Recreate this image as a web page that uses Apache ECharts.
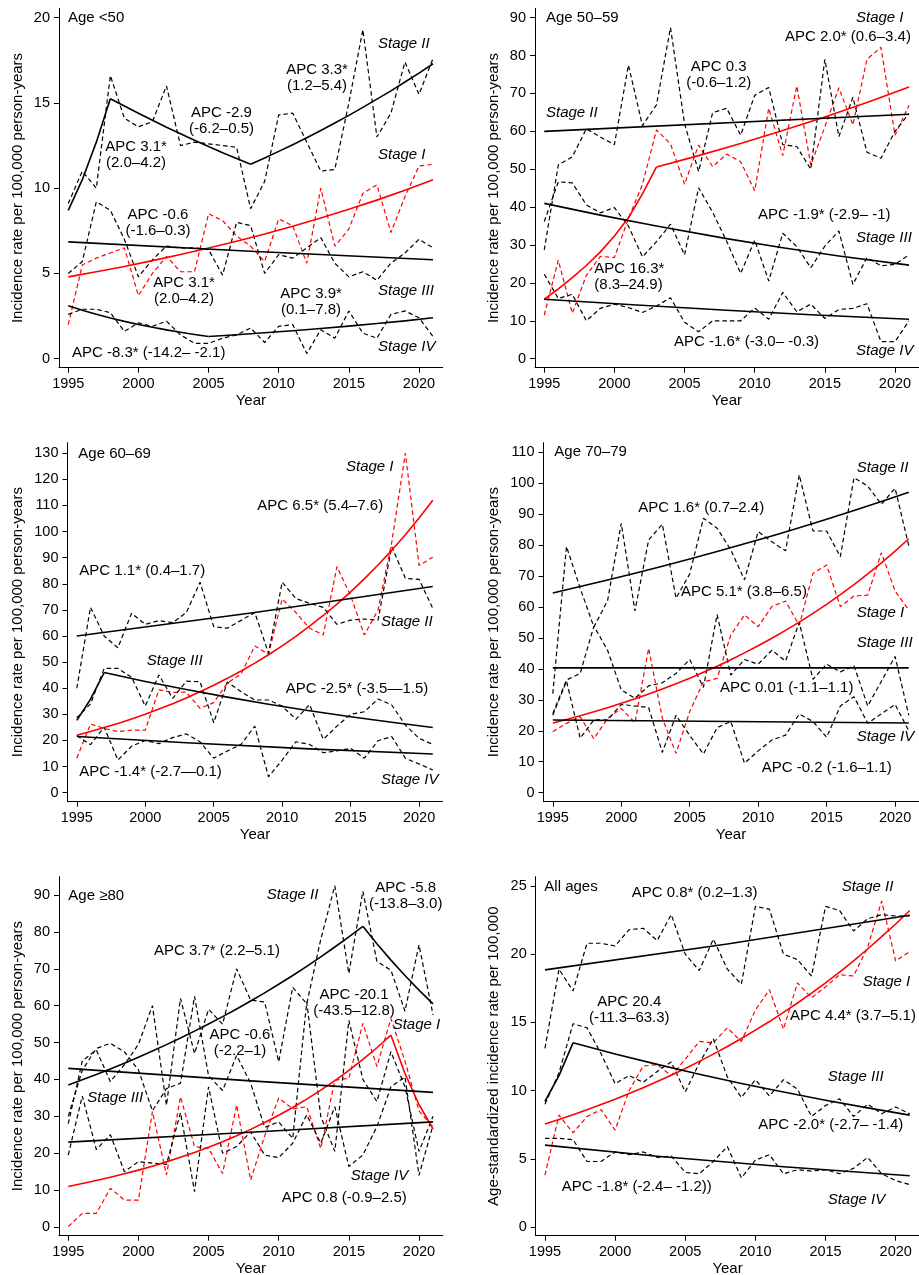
<!DOCTYPE html>
<html><head><meta charset="utf-8">
<script src="https://cdn.jsdelivr.net/npm/echarts@6/dist/echarts.min.js"></script>
<style>html,body{margin:0;padding:0;background:#fff}#c{width:919px;height:1275px}</style>
</head><body><div id="c"></div>
<script>
const YEARS = [1995,1996,1997,1998,1999,2000,2001,2002,2003,2004,2005,2006,2007,2008,2009,2010,2011,2012,2013,2014,2015,2016,2017,2018,2019,2020,2021];
const X_TICKS = [1995,2000,2005,2010,2015,2020];
const Y_TICKS_P1 = [0,5,10,15,20];
const Y_TICKS_P2 = [0,10,20,30,40,50,60,70,80,90];
const Y_TICKS_P3 = [0,10,20,30,40,50,60,70,80,90,100,110,120,130];
const Y_TICKS_P4 = [0,10,20,30,40,50,60,70,80,90,100,110];
const Y_TICKS_P5 = [0,10,20,30,40,50,60,70,80,90];
const Y_TICKS_P6 = [0,5,10,15,20,25];

// Panel 1: Age <50
const p1StageI   = [2.0,5.5,5.9,6.2,6.5,3.7,5.0,6.0,5.1,5.1,8.5,8.1,7.2,6.6,5.7,8.2,7.8,5.6,10.0,6.6,7.6,9.7,10.2,7.4,9.5,11.3,11.4];
const p1StageII  = [9.1,11.0,10.0,16.6,14.1,13.6,13.9,16.0,12.5,12.7,12.6,12.5,12.4,8.8,10.4,14.3,14.4,12.7,11.0,11.1,15.0,19.3,13.0,14.4,17.4,15.5,17.6];
const p1StageIII = [5.0,5.7,9.2,8.7,7.0,4.8,5.8,6.6,6.5,6.5,6.4,4.9,8.0,7.8,5.0,6.1,5.9,6.5,7.1,5.6,4.8,5.1,4.6,5.6,6.2,7.0,6.5];
const p1StageIV  = [2.6,2.9,2.9,2.7,1.6,2.1,1.9,2.2,1.4,0.9,0.9,1.2,1.4,1.8,0.95,1.9,2.0,0.3,1.7,1.2,2.8,1.5,1.2,2.6,2.8,2.4,1.3];
const p1FitI   = [[[1995,4.8],[1997,5.1],[1999,5.41],[2001,5.75],[2003,6.11],[2005,6.49],[2007,6.89],[2009,7.31],[2011,7.77],[2013,8.25],[2015,8.76],[2017,9.3],[2019,9.88],[2021,10.5]]];
const p1FitII  = [[[1995,8.7],[1996,10.5],[1997,12.7],[1998,15.25]],
                  [[1998,15.25],[2000,14.39],[2002,13.57],[2004,12.81],[2006,12.08],[2008,11.4]],
                  [[2008,11.4],[2009,11.77],[2010,12.16],[2011,12.55],[2012,12.96],[2013,13.38],[2014,13.82],[2015,14.27],[2016,14.74],[2017,15.22],[2018,15.71],[2019,16.23],[2020,16.75],[2021,17.3]]];
const p1FitIII = [[[1995,6.85],[2008,6.3],[2021,5.8]]];
const p1FitIV  = [[[1995,3.1],[1996,2.84],[1997,2.61],[1998,2.39],[1999,2.19],[2000,2.01],[2001,1.84],[2002,1.69],[2003,1.55],[2004,1.42],[2005,1.3]],
                  [[2005,1.3],[2007,1.4],[2009,1.52],[2011,1.64],[2013,1.77],[2015,1.91],[2017,2.06],[2019,2.22],[2021,2.4]]];

// Panel 2: Age 50–59
const p2StageI   = [11.5,26,12,22,27,26.7,37,46,60.4,56.7,46,56.4,50.7,54,52,44.3,66.1,53.6,72,51.1,61.2,71.5,61.7,79,82.2,59,66.9];
const p2StageII  = [28.7,51.1,53.3,60.7,58.5,56.5,77.5,61.5,67,87.4,62,49.4,64.9,66.1,59,69.5,71.6,56.5,56,50,79,58.6,69,54.5,52.9,60,64.7];
const p2StageIII = [36.2,46.7,46.4,40.6,38.5,39.9,35,26.9,30.9,35.5,27.4,45.1,38.7,31,22.5,31.3,20.5,33.1,29.6,24,29.7,33.7,19.6,26.7,24.5,24.9,27.4];
const p2StageIV  = [22.3,15.9,17,10,13.3,14.4,13.5,12.2,13.9,16.1,9.6,7.1,10,10,10,13.4,10.4,17.5,12.4,14.4,10.6,13,13.3,14.5,4.5,4.5,10];
const p2FitI   = [[[1995,15.7],[1996,18.4],[1997,21.4],[1998,24.6],[1999,28.2],[2000,32.4],[2001,37.2],[2002,43.5],[2003,50.6]],
                  [[2003,50.6],[2006,53.6],[2009,56.8],[2012,60.2],[2015,63.8],[2018,67.6],[2021,71.7]]];
const p2FitII  = [[[1995,60],[2021,64.5]]];
const p2FitIII = [[[1995,41],[1999,37.9],[2003,35.0],[2008,31.7],[2012,29.3],[2016,27.1],[2021,24.7]]];
const p2FitIV  = [[[1995,15.7],[2001,14.3],[2008,12.8],[2014,11.6],[2021,10.4]]];

// Panel 3: Age 60–69
const p3StageI   = [13.2,26.3,24.6,23.4,24,24,39.4,38.4,38.5,32.3,34.5,42,45.5,56.2,53,74.2,69,63,60.4,86.6,75.5,60.4,70,95.8,130,87,90.2];
const p3StageII  = [40,71,60,55.5,68.7,64.5,65.9,65.1,69,80.6,63.6,63,66,69,53.4,80.6,74.4,72.5,71,64.5,66.1,66.5,66.1,94.2,82.1,81.7,70.6];
const p3StageIII = [28.7,34,47.6,47.6,44.2,33.2,45.1,36.1,42.7,42.5,26.8,42.4,38.7,35.5,35.5,33.2,28.1,33.8,20.4,25.5,30,31,35.9,33.6,25.9,20.8,18.5];
const p3StageIV  = [21.9,18.4,25.1,12.5,17.8,20,18.8,21.1,22.5,19.5,13.2,16,18.5,25.5,6.1,12.5,19.5,18.5,15.3,16,17,13.2,19.9,21.5,13.2,11,8.7];
const p3FitI   = [[[1995,22],[1996,23.42],[1997,24.93],[1998,26.54],[1999,28.26],[2000,30.08],[2001,32.03],[2002,34.09],[2003,36.3],[2004,38.64],[2005,41.14],[2006,43.8],[2007,46.62],[2008,49.63],[2009,52.84],[2010,56.25],[2011,59.89],[2012,63.76],[2013,67.87],[2014,72.26],[2015,76.93],[2016,81.9],[2017,87.19],[2018,92.82],[2019,98.81],[2020,105.2],[2021,112]]];
const p3FitII  = [[[1995,60],[2008,69],[2021,79]]];
const p3FitIII = [[[1995,27.7],[1996,35.8],[1997,46]],
                  [[1997,46],[2000,42.6],[2003,39.5],[2006,36.6],[2009,33.9],[2012,31.4],[2015,29.1],[2018,27.0],[2021,25]]];
const p3FitIV  = [[[1995,21.5],[2003,19.1],[2012,16.8],[2021,14.8]]];

// Panel 4: Age 70–79
const p4StageI   = [19.7,22.4,24.5,17.4,24,27.2,22.6,46.6,24,12.7,26.2,35.8,36.9,50.9,57.4,53.6,60.1,61.9,54,70.8,73.5,60.1,63.5,63.8,77.5,65.1,59];
const p4StageII  = [32,79.5,66,53.5,62,87,58.7,81.6,86.7,62.8,70.6,88.6,85.4,78.4,68.7,84.3,81,78.1,102.6,84.5,84.5,76.2,101.7,99,93.1,98.3,79.7];
const p4StageIII = [25.6,36.4,38.5,53.8,46,33.2,30.5,34.5,35.5,38.5,43,34,57.5,38,43,41.5,46,42.5,55,36.6,41.5,39,41,28,36,44,25];
const p4StageIV  = [25,36,17.6,23.5,23.5,28.5,28,27.5,13,25,18.5,12.5,21,23,9.5,13.5,17,18.6,25.4,23,17.9,28,31,22.4,25.5,28.5,20];
const p4FitI   = [[[1995,22.5],[1996,23.65],[1997,24.85],[1998,26.12],[1999,27.45],[2000,28.85],[2001,30.32],[2002,31.87],[2003,33.49],[2004,35.2],[2005,36.99],[2006,38.88],[2007,40.86],[2008,42.95],[2009,45.14],[2010,47.44],[2011,49.86],[2012,52.4],[2013,55.07],[2014,57.88],[2015,60.83],[2016,63.93],[2017,67.19],[2018,70.62],[2019,74.22],[2020,78],[2021,82]]];
const p4FitII  = [[[1995,64.5],[1997,66.56],[1999,68.68],[2001,70.87],[2003,73.13],[2005,75.46],[2007,77.87],[2009,80.35],[2011,82.91],[2013,85.56],[2015,88.29],[2017,91.1],[2019,94.01],[2021,97]]];
const p4FitIII = [[[1995,40.3],[2021,40.3]]];
const p4FitIV  = [[[1995,23.5],[2021,22.5]]];

// Panel 5: Age ≥80
const p5StageI   = [0.1,3.7,3.7,10.5,7.3,7.3,31.3,14.1,35.3,21.8,21.3,14.5,33.1,12.7,24.7,35,32,32.6,21.3,39.8,40.3,55.2,43.5,56.5,45,31.5,27];
const p5StageII  = [28,45,48,39.4,44,49.5,60,33,62,47,59,55,70,61.5,61,44.8,65,60.5,78,92.5,68.7,91,72,69.6,58.5,76.5,57.5];
const p5StageIII = [30,42.5,48.4,49.8,47.5,42.6,31.5,37.5,39,62.5,41,37,46.5,39,27,28.5,24,61,30,20.5,56,40,34,47.5,38,20.5,30];
const p5StageIV  = [19.5,35.5,21,25,15,17.7,17.3,17,31,9.6,38,20,21.8,25.8,19.5,18.8,22.7,30.4,22.7,32.6,16.4,19.5,27.2,38,40.7,14,27.6];
const p5FitI   = [[[1995,11],[1996,11.77],[1997,12.59],[1998,13.47],[1999,14.41],[2000,15.42],[2001,16.49],[2002,17.65],[2003,18.88],[2004,20.2],[2005,21.61],[2006,23.12],[2007,24.73],[2008,26.46],[2009,28.31],[2010,30.29],[2011,32.4],[2012,34.67],[2013,37.09],[2014,39.68],[2015,42.45],[2016,45.42],[2017,48.59],[2018,52]],
                  [[2018,52],[2019,41.6],[2020,33.2],[2021,26.6]]];
const p5FitII  = [[[1995,38.5],[1996,39.9],[1997,41.35],[1998,42.86],[1999,44.41],[2000,46.03],[2001,47.7],[2002,49.44],[2003,51.23],[2004,53.1],[2005,55.03],[2006,57.03],[2007,59.1],[2008,61.25],[2009,63.48],[2010,65.79],[2011,68.18],[2012,70.66],[2013,73.23],[2014,75.9],[2015,78.66],[2016,81.5]],
                  [[2016,81.5],[2017,76.79],[2018,72.35],[2019,68.16],[2020,64.22],[2021,60.5]]];
const p5FitIII = [[[1995,43],[2008,39.6],[2021,36.5]]];
const p5FitIV  = [[[1995,23],[2008,25.7],[2021,28.5]]];

// Panel 6: All ages
const p6StageI   = [3.8,8.2,6.9,8.1,8.6,7.1,10.0,11.8,11.9,11.1,12.3,13.6,13.5,14.6,13.6,15.9,17.4,14.5,17.9,16.8,17.6,18.5,18.4,20.5,23.9,19.5,20.2];
const p6StageII  = [13.1,18.9,17.3,20.8,20.8,20.6,21.8,21.9,21.0,22.9,20.0,18.8,21.1,18.9,17.8,23.5,23.3,20.0,19.6,18.4,23.5,23.2,21.7,22.6,22.9,22.8,22.8];
const p6StageIII = [9.0,11.3,14.9,14.6,12.7,10.5,11.1,10.6,11.4,12.1,9.9,12.0,13.8,11.0,9.5,10.8,9.6,10.8,10.1,8.1,8.9,9.4,8.1,9.0,8.3,8.8,8.3];
const p6StageIV  = [6.5,6.5,6.4,4.8,4.8,5.5,5.3,5.5,5.1,5.2,4.0,3.9,4.8,5.9,3.6,4.9,5.3,3.9,4.2,4.1,4.2,3.9,4.3,5.1,3.9,3.4,3.1];
const p6FitI   = [[[1995,7.55],[1996,7.88],[1997,8.23],[1998,8.59],[1999,8.97],[2000,9.37],[2001,9.78],[2002,10.21],[2003,10.66],[2004,11.13],[2005,11.62],[2006,12.14],[2007,12.67],[2008,13.23],[2009,13.82],[2010,14.43],[2011,15.06],[2012,15.73],[2013,16.42],[2014,17.14],[2015,17.9],[2016,18.69],[2017,19.51],[2018,20.38],[2019,21.28],[2020,22.21],[2021,23.2]]];
const p6FitII  = [[[1995,18.85],[2008,20.75],[2021,22.85]]];
const p6FitIII = [[[1995,9.2],[1996,11.1],[1997,13.5]],
                  [[1997,13.5],[2000,12.68],[2003,11.92],[2006,11.2],[2009,10.52],[2012,9.89],[2015,9.29],[2018,8.73],[2021,8.2]]];
const p6FitIV  = [[[1995,6],[2003,5.19],[2012,4.41],[2021,3.75]]];

const YNAME_A = 'Incidence rate per 100,000 person-years';
const YNAME_B = 'Age-standardized incidence rate per 100,000';

const FONT = '"Liberation Sans", Arial, Helvetica, sans-serif';
const RED = '#ff0000', BLACK = '#000000';

const panels = [
  {grid:{left:59,top:8.3,width:383.7,height:359.4}, x:[1994.34,2021.69], y:[-0.528,20.55], ticks:Y_TICKS_P1, yname:YNAME_A, ygap:34,
   obs:[p1StageI,p1StageII,p1StageIII,p1StageIV], fit:[p1FitI,p1FitII,p1FitIII,p1FitIV]},
  {grid:{left:535,top:8.3,width:383.7,height:359.4}, x:[1994.34,2021.69], y:[-2.375,92.48], ticks:Y_TICKS_P2, yname:YNAME_A, ygap:34,
   obs:[p2StageI,p2StageII,p2StageIII,p2StageIV], fit:[p2FitI,p2FitII,p2FitIII,p2FitIV]},
  {grid:{left:67.5,top:442.7,width:375,height:359}, x:[1994.32,2021.71], y:[-3.45,134.05], ticks:Y_TICKS_P3, yname:YNAME_A, ygap:42,
   obs:[p3StageI,p3StageII,p3StageIII,p3StageIV], fit:[p3FitI,p3FitII,p3FitIII,p3FitIV]},
  {grid:{left:543.5,top:442.7,width:375,height:359}, x:[1994.32,2021.71], y:[-2.9,113.0], ticks:Y_TICKS_P4, yname:YNAME_A, ygap:42,
   obs:[p4StageI,p4StageII,p4StageIII,p4StageIV], fit:[p4FitI,p4FitII,p4FitIII,p4FitIV]},
  {grid:{left:59,top:876.7,width:383.7,height:359}, x:[1994.34,2021.69], y:[-2.36,94.96], ticks:Y_TICKS_P5, yname:YNAME_A, ygap:34,
   obs:[p5StageI,p5StageII,p5StageIII,p5StageIV], fit:[p5FitI,p5FitII,p5FitIII,p5FitIV]},
  {grid:{left:535.7,top:876.7,width:383.7,height:359}, x:[1994.34,2021.69], y:[-0.64,25.68], ticks:Y_TICKS_P6, yname:YNAME_B, ygap:34,
   obs:[p6StageI,p6StageII,p6StageIII,p6StageIV], fit:[p6FitI,p6FitII,p6FitIII,p6FitIV]}
];

// [text, x, y, align, italic]
const notes = [
  ['Age <50',68,18,'left'],
  ['Stage II',378,44,'left',1],
  ['APC 3.3*\n(1.2–5.4)',317,78,'center'],
  ['APC -2.9\n(-6.2–0.5)',221.5,120.5,'center'],
  ['APC 3.1*\n(2.0–4.2)',136,154.5,'center'],
  ['Stage I',378,155,'left',1],
  ['APC -0.6\n(-1.6–0.3)',158,222.5,'center'],
  ['APC 3.1*\n(2.0–4.2)',184,290.5,'center'],
  ['Stage III',378,291,'left',1],
  ['APC 3.9*\n(0.1–7.8)',311,302,'center'],
  ['Stage IV',378,347,'left',1],
  ['APC -8.3* (-14.2– -2.1)',72,353.3,'left'],

  ['Age 50–59',546,18,'left'],
  ['Stage I',856,18,'left',1],
  ['APC 2.0* (0.6–3.4)',785,36.7,'left'],
  ['APC 0.3\n(-0.6–1.2)',718.7,74.5,'center'],
  ['Stage II',546,113,'left',1],
  ['APC -1.9* (-2.9– -1)',758,215,'left'],
  ['Stage III',856,238,'left',1],
  ['APC 16.3*\n(8.3–24.9)',594.3,277,'left'],
  ['APC -1.6* (-3.0– -0.3)',674,341.7,'left'],
  ['Stage IV',856,351,'left',1],

  ['Age 60–69',78.3,453.7,'left'],
  ['Stage I',346,466.7,'left',1],
  ['APC 6.5* (5.4–7.6)',257.3,506,'left'],
  ['APC 1.1* (0.4–1.7)',79.3,571,'left'],
  ['Stage II',381,622.3,'left',1],
  ['Stage III',146.7,661.3,'left',1],
  ['APC -2.5* (-3.5—1.5)',285.7,688.7,'left'],
  ['APC -1.4* (-2.7—0.1)',79.3,772.3,'left'],
  ['Stage IV',381,780,'left',1],

  ['Age 70–79',554.3,452,'left'],
  ['Stage II',856.7,468.3,'left',1],
  ['APC 1.6* (0.7–2.4)',638.3,508.3,'left'],
  ['APC 5.1* (3.8–6.5)',681,592.3,'left'],
  ['Stage I',856.7,612.7,'left',1],
  ['Stage III',856.7,643.3,'left',1],
  ['APC 0.01 (-1.1–1.1)',720,687.7,'left'],
  ['Stage IV',856.7,736.7,'left',1],
  ['APC -0.2 (-1.6–1.1)',761.7,768.3,'left'],

  ['Age ≥80',68.3,895.7,'left'],
  ['Stage II',266.7,895,'left',1],
  ['APC -5.8\n(-13.8–3.0)',405.7,895.5,'center'],
  ['APC 3.7* (2.2–5.1)',154,951,'left'],
  ['APC -20.1\n(-43.5–12.8)',354,1002.5,'center'],
  ['Stage I',392.7,1025,'left',1],
  ['APC -0.6\n(-2.2–1)',240,1043.3,'center'],
  ['Stage III',87.3,1098.3,'left',1],
  ['Stage IV',350.7,1175.7,'left',1],
  ['APC 0.8 (-0.9–2.5)',281.7,1197.7,'left'],

  ['All ages',544.3,887.3,'left'],
  ['APC 0.8* (0.2–1.3)',631.7,893.3,'left'],
  ['Stage II',841.7,886.7,'left',1],
  ['Stage I',862.7,981.7,'left',1],
  ['APC 20.4\n(-11.3–63.3)',629.3,1009.8,'center'],
  ['APC 4.4* (3.7–5.1)',790,1016,'left'],
  ['Stage III',827.7,1076.7,'left',1],
  ['APC -2.0* (-2.7– -1.4)',758.3,1125,'left'],
  ['APC -1.8* (-2.4– -1.2))',561.7,1186.7,'left'],
  ['Stage IV',827.7,1200,'left',1]
];

const grids = [], xAxes = [], yAxes = [], series = [];
panels.forEach((p, i) => {
  grids.push(Object.assign({containLabel:false, outerBoundsMode:'none'}, p.grid));
  xAxes.push({
    type:'value', gridIndex:i, min:p.x[0], max:p.x[1],
    name:'Year', nameLocation:'middle', nameGap:26,
    nameTextStyle:{color:'#000', fontSize:15, fontFamily:FONT},
    axisLine:{show:true, onZero:false, lineStyle:{color:'#000', width:1}},
    axisTick:{show:true, length:5, customValues:X_TICKS, lineStyle:{color:'#000'}},
    axisLabel:{show:true, customValues:X_TICKS, color:'#000', fontSize:14.5, fontFamily:FONT, margin:9,
               formatter: v => String(Math.round(v))},
    splitLine:{show:false}
  });
  yAxes.push({
    type:'value', gridIndex:i, min:p.y[0], max:p.y[1],
    name:p.yname, nameLocation:'middle', nameGap:p.ygap, nameRotate:90,
    nameTextStyle:{color:'#000', fontSize:15, fontFamily:FONT},
    axisLine:{show:true, onZero:false, lineStyle:{color:'#000', width:1}},
    axisTick:{show:true, length:5, customValues:p.ticks, lineStyle:{color:'#000'}},
    axisLabel:{show:true, customValues:p.ticks, color:'#000', fontSize:14.5, fontFamily:FONT, margin:9,
               formatter: v => String(Math.round(v))},
    splitLine:{show:false}
  });
  p.obs.forEach((vals, s) => {
    series.push({
      type:'line', xAxisIndex:i, yAxisIndex:i, symbol:'none', silent:true, z:2,
      data: YEARS.map((yr, k) => [yr, vals[k]]),
      lineStyle:{color: s === 0 ? RED : BLACK, width:1.2, type:[4.5,3]}
    });
  });
  p.fit.forEach((segs, s) => {
    segs.forEach(seg => {
      series.push({
        type:'line', xAxisIndex:i, yAxisIndex:i, symbol:'none', silent:true, z:3,
        smooth:false, data: seg,
        lineStyle:{color: s === 0 ? RED : BLACK, width:1.6, join:'round'}
      });
    });
  });
});

const graphic = notes.map(n => ({
  type:'text', x:n[1], y:n[2], silent:true, z:10,
  style:{text:n[0], fill:'#000', fontSize:15, fontFamily:FONT, fontStyle:n[4] ? 'italic' : 'normal',
         align:n[3], verticalAlign:'middle', lineHeight:16}
}));

const chart = echarts.init(document.getElementById('c'), null, {renderer:'canvas'});
chart.setOption({
  animation:false, backgroundColor:'#fff',
  grid:grids, xAxis:xAxes, yAxis:yAxes, series:series, graphic:graphic
});
</script></body></html>
